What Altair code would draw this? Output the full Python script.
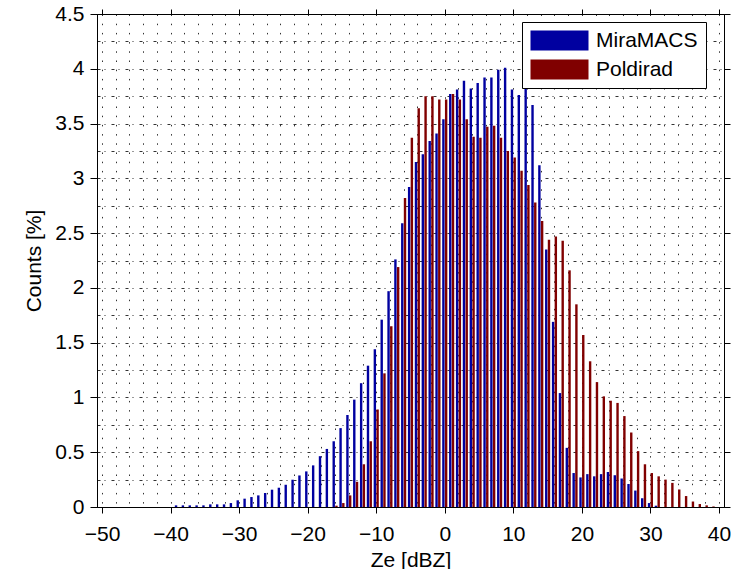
import altair as alt
import pandas as pd

# ---------------- data ----------------
blue_dbz = list(range(-39, 32))
blue_pct = [0.015, 0.015, 0.015, 0.015, 0.015, 0.024, 0.024, 0.024, 0.036, 0.061,
            0.076, 0.091, 0.106, 0.128, 0.158, 0.176, 0.203, 0.249, 0.288, 0.325,
            0.38, 0.464, 0.53, 0.60, 0.72, 0.84, 0.98, 1.13, 1.29, 1.44,
            1.71, 1.97, 2.26, 2.59, 2.92, 3.15, 3.22, 3.34, 3.41, 3.54,
            3.77, 3.81, 3.89, 3.82, 3.87, 3.92, 3.92, 3.99, 4.01, 3.81,
            3.76, 3.86, 3.67, 3.12, 2.35, 1.69, 1.04, 0.54, 0.31, 0.27,
            0.30, 0.28, 0.30, 0.32, 0.29, 0.26, 0.21, 0.15, 0.08, 0.036,
            0.012]
red_dbz = list(range(-16, 40))
red_pct = [0.012, 0.036, 0.106, 0.23, 0.39, 0.60, 0.89, 1.22, 1.65, 2.19,
           2.82, 3.37, 3.64, 3.75, 3.75, 3.72, 3.72, 3.77, 3.72, 3.54,
           3.38, 3.37, 3.47, 3.48, 3.37, 3.25, 3.19, 3.07, 2.94, 2.78,
           2.61, 2.44, 2.47, 2.43, 2.16, 1.85, 1.57, 1.33, 1.14, 1.01,
           0.97, 0.95, 0.83, 0.68, 0.51, 0.39, 0.31, 0.28, 0.25, 0.22,
           0.16, 0.10, 0.05, 0.027, 0.015, 0.005]

series_names = ["MiraMACS", "Poldirad"]
series_colors = ["#0000A0", "#800000"]

x_ticks = list(range(-50, 41, 10))
y_ticks = [i * 0.5 for i in range(10)]
x_grid = list(range(-50, 41, 2))
y_grid = [i * 0.25 for i in range(19)]

df = pd.DataFrame({
    "dbz": blue_dbz + red_dbz,
    "pct": blue_pct + red_pct,
    "series": [series_names[0]] * len(blue_dbz) + [series_names[1]] * len(red_dbz),
})

FONT = "Liberation Sans"
FS = 21

xs = alt.Scale(domain=[-50, 40], nice=False, zero=False)
ys = alt.Scale(domain=[0, 4.5], nice=False, zero=False)

base = alt.Chart(df).transform_calculate(
    pos="datum.dbz + (datum.series == 'MiraMACS' ? -0.2 : 0.2)"
)

vgrid = base.mark_point(opacity=0).encode(
    x=alt.X("pos:Q", scale=xs, axis=alt.Axis(
        orient="bottom", values=x_grid, grid=True, gridColor="#000000",
        gridDash=[1.5, 7.7], gridWidth=1, gridOpacity=0.8,
        labels=False, ticks=False, domain=False, title=None)),
    y=alt.Y("pct:Q", scale=ys, axis=None),
)

hgrid = base.mark_point(opacity=0).encode(
    x=alt.X("pos:Q", scale=xs, axis=None),
    y=alt.Y("pct:Q", scale=ys, axis=alt.Axis(
        orient="left", values=y_grid, grid=True, gridColor="#000000",
        gridDash=[3, 4, 1, 6], gridWidth=1, gridOpacity=0.8,
        labels=False, ticks=False, domain=False, title=None)),
)

bars = base.mark_bar(width=2.4, orient="vertical").encode(
    x=alt.X("pos:Q", scale=xs, axis=alt.Axis(
        orient="bottom", values=x_ticks, format="d", grid=False,
        tickSize=6, labelPadding=10, title="Ze [dBZ]", titlePadding=5)),
    y=alt.Y("pct:Q", scale=ys, axis=alt.Axis(
        orient="left", values=y_ticks, labelExpr="'' + datum.value", grid=False,
        tickSize=7, labelPadding=6, title="Counts [%]", titlePadding=10)),
    color=alt.Color("series:N",
                    scale=alt.Scale(domain=series_names, range=series_colors),
                    legend=alt.Legend(
                        title=None, orient="none", legendX=425, legendY=8,
                        direction="vertical",
                        symbolType="M-1,-1L4.8,-1L4.8,1L-1,1Z",
                        symbolSize=400, symbolStrokeWidth=0, symbolOpacity=1,
                        labelFont=FONT, labelFontSize=FS, labelColor="black",
                        labelOffset=45, rowPadding=7, padding=8,
                        strokeColor="black", fillColor="white")),
)

frame = base.mark_point(opacity=0).encode(
    x=alt.X("pos:Q", scale=xs, axis=alt.Axis(
        orient="top", values=x_ticks, labels=False, grid=False,
        tickSize=5, title=None)),
    y=alt.Y("pct:Q", scale=ys, axis=alt.Axis(
        orient="right", values=y_ticks, labels=False, grid=False,
        tickSize=6, title=None)),
)

chart = alt.layer(vgrid, hgrid, bars, frame).resolve_axis(
    x="independent", y="independent"
).properties(
    width=627, height=493,
    autosize=alt.AutoSizeParams(type="none"),
    padding={"left": 97, "top": 14, "right": 21, "bottom": 62},
    background="white",
).configure_view(
    stroke="black", strokeWidth=1
).configure_axis(
    labelFont=FONT, titleFont=FONT, labelFontSize=FS, titleFontSize=FS,
    labelColor="black", titleColor="black", titleFontWeight="normal",
    domainColor="black", tickColor="black", tickWidth=1, domainWidth=1,
)

chart.save("out.html", embed_options={"renderer": "svg", "actions": False})
